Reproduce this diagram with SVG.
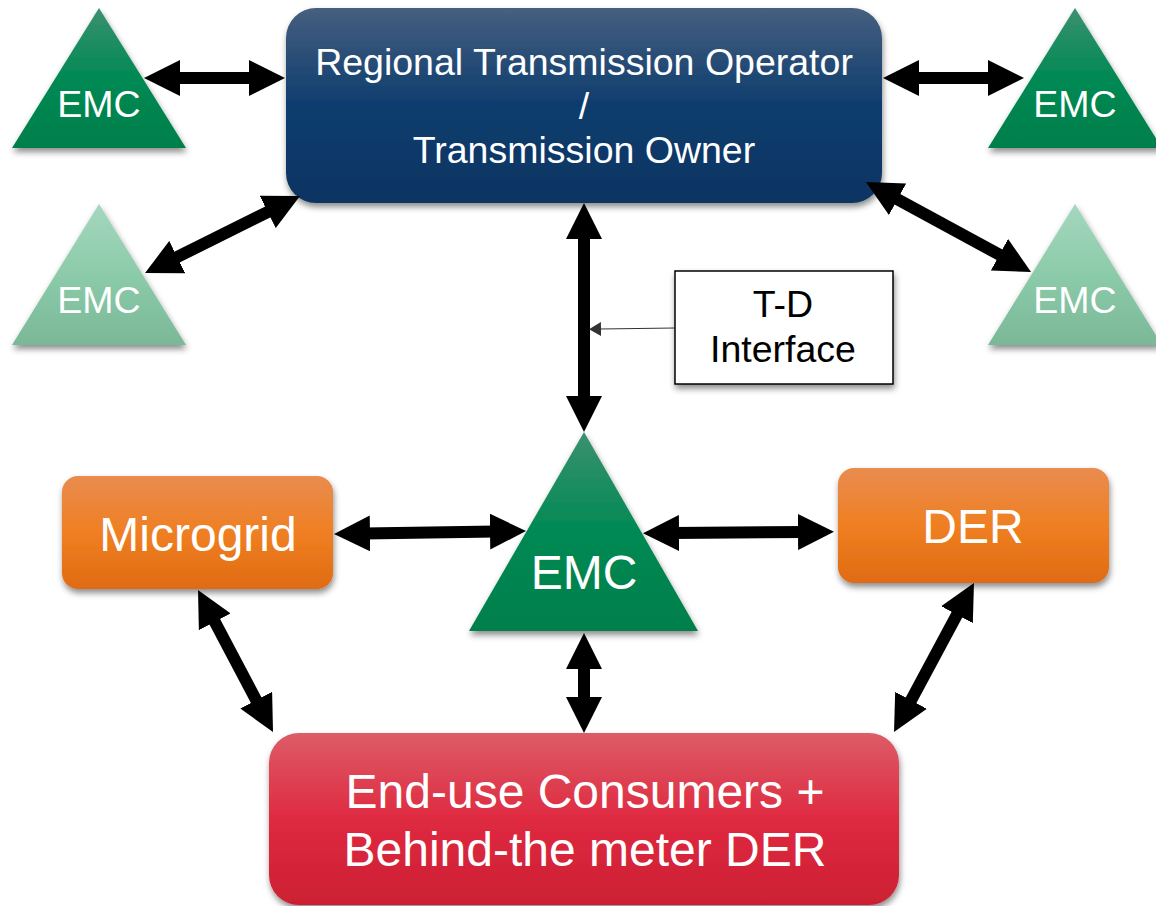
<svg xmlns="http://www.w3.org/2000/svg" width="1156" height="906" viewBox="0 0 1156 906">
<style>
.lbl{font-family:"Liberation Sans",Arial,sans-serif;fill:#ffffff;text-anchor:middle}
.dark{font-family:"Liberation Sans",Arial,sans-serif;fill:#000000;text-anchor:middle}
.conn{stroke:#000;stroke-width:12;fill:none;marker-start:url(#head);marker-end:url(#head)}
</style>
<defs>
<linearGradient id="gBlue" x1="0" y1="0" x2="0" y2="1">
<stop offset="0" stop-color="#465f7f"/><stop offset="0.5" stop-color="#0e3d6e"/><stop offset="1" stop-color="#093462"/>
</linearGradient>
<linearGradient id="gOrange" x1="0" y1="0" x2="0" y2="1">
<stop offset="0" stop-color="#e98c50"/><stop offset="0.5" stop-color="#ef7f22"/><stop offset="1" stop-color="#e06b12"/>
</linearGradient>
<linearGradient id="gRed" x1="0" y1="0" x2="0" y2="1">
<stop offset="0" stop-color="#dc5c67"/><stop offset="0.5" stop-color="#df2a41"/><stop offset="1" stop-color="#cc1f33"/>
</linearGradient>
<linearGradient id="gGreen" x1="0" y1="0" x2="0" y2="1">
<stop offset="0" stop-color="#3b9170"/><stop offset="0.5" stop-color="#008953"/><stop offset="1" stop-color="#007f4c"/>
</linearGradient>
<linearGradient id="gLight" x1="0" y1="0" x2="0" y2="1">
<stop offset="0" stop-color="#a4d7bf"/><stop offset="0.5" stop-color="#8ccba9"/><stop offset="1" stop-color="#7ab898"/>
</linearGradient>
<filter id="sh" x="-10%" y="-10%" width="125%" height="130%">
<feDropShadow dx="1" dy="4" stdDeviation="3" flood-color="#000" flood-opacity="0.45"/>
</filter>
<marker id="head" markerUnits="userSpaceOnUse" markerWidth="36" markerHeight="36" viewBox="0 0 36 36" refX="6" refY="18" orient="auto-start-reverse">
<path d="M0,0 L36,18 L0,36 z" fill="#000"/>
</marker>
<marker id="small" markerUnits="userSpaceOnUse" markerWidth="12" markerHeight="14" viewBox="0 0 12 14" refX="1" refY="7" orient="auto">
<path d="M0,0 L12,7 L0,14 z" fill="#333"/>
</marker>
</defs>

<g id="rto">
<rect x="286" y="8" width="596" height="195" rx="30" fill="url(#gBlue)" filter="url(#sh)"/>
<text class="lbl" x="584" y="75" font-size="37.5">Regional Transmission Operator</text>
<text class="lbl" x="584" y="119" font-size="37.5">/</text>
<text class="lbl" x="584" y="163" font-size="37.5">Transmission Owner</text>
</g>

<g id="emc-tl">
<polygon points="99,8 12,148 186,148" fill="url(#gGreen)" filter="url(#sh)"/>
<text class="lbl" x="99" y="117" font-size="37.5">EMC</text>
</g>
<g id="emc-tr">
<polygon points="1075,8 988,148 1162,148" fill="url(#gGreen)" filter="url(#sh)"/>
<text class="lbl" x="1075" y="117" font-size="37.5">EMC</text>
</g>
<g id="emc-ml">
<polygon points="99,204 12,345 186,345" fill="url(#gLight)" filter="url(#sh)"/>
<text class="lbl" x="99" y="313" font-size="37.5">EMC</text>
</g>
<g id="emc-mr">
<polygon points="1075,204 988,345 1162,345" fill="url(#gLight)" filter="url(#sh)"/>
<text class="lbl" x="1075" y="313" font-size="37.5">EMC</text>
</g>

<g id="td">
<rect x="675" y="271" width="218" height="113" fill="#fff" stroke="#000" stroke-width="1.5" filter="url(#sh)"/>
<text class="dark" x="783" y="317" font-size="37.5">T-D</text>
<text class="dark" x="783" y="362" font-size="37.5">Interface</text>
</g>

<g id="emc-c">
<polygon points="584,432 469,631 698,631" fill="url(#gGreen)" filter="url(#sh)"/>
<text class="lbl" x="584" y="589" font-size="48">EMC</text>
</g>

<g id="microgrid">
<rect x="62" y="476" width="271" height="113" rx="16" fill="url(#gOrange)" filter="url(#sh)"/>
<text class="lbl" x="198" y="551" font-size="48">Microgrid</text>
</g>

<g id="der">
<rect x="838" y="468" width="271" height="115" rx="16" fill="url(#gOrange)" filter="url(#sh)"/>
<text class="lbl" x="973" y="543" font-size="48">DER</text>
</g>

<g id="consumers">
<rect x="269" y="733" width="630" height="172" rx="30" fill="url(#gRed)" filter="url(#sh)"/>
<text class="lbl" x="585" y="808" font-size="48">End-use Consumers +</text>
<text class="lbl" x="585" y="866" font-size="48">Behind-the meter DER</text>
</g>

<g id="connectors">
<line class="conn" x1="174" y1="78" x2="255" y2="78"/>
<line class="conn" x1="913" y1="78" x2="994" y2="78"/>
<line class="conn" x1="171.9" y1="259.7" x2="273.1" y2="209.3"/>
<line class="conn" x1="892.3" y1="196.4" x2="1004.7" y2="257.6"/>
<line class="conn" x1="584" y1="233" x2="584" y2="402"/>
<line class="conn" x1="364" y1="533.5" x2="496" y2="531.5"/>
<line class="conn" x1="673" y1="533" x2="804" y2="532"/>
<line class="conn" x1="212" y1="616.5" x2="259" y2="705.5"/>
<line class="conn" x1="959.8" y1="609.4" x2="908.2" y2="705.6"/>
<line class="conn" x1="584" y1="663" x2="584" y2="703"/>
<line x1="675" y1="328" x2="600" y2="329" stroke="#333" stroke-width="1.2" marker-end="url(#small)"/>
</g>
</svg>
